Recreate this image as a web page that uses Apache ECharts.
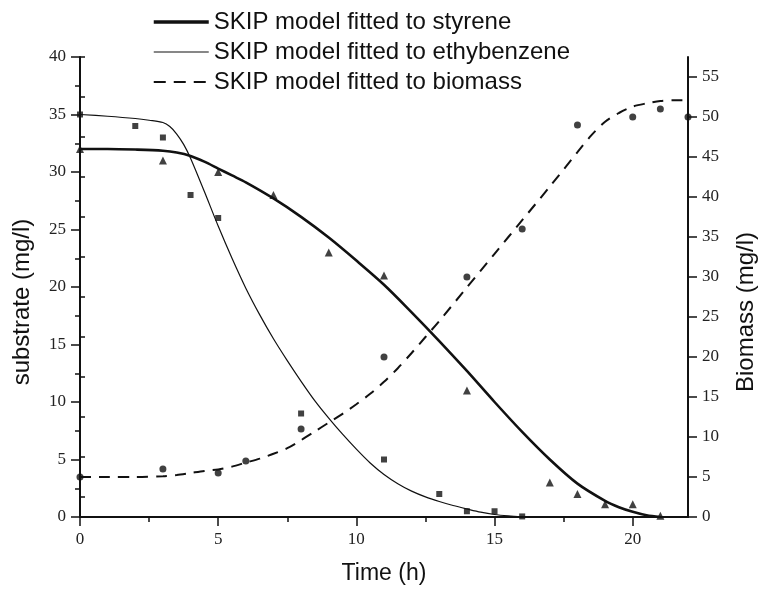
<!DOCTYPE html>
<html>
<head>
<meta charset="utf-8">
<script src="https://cdn.jsdelivr.net/npm/echarts@6/dist/echarts.min.js"></script>
<style>
  html, body { margin: 0; padding: 0; background: #fff; }
  #chart { width: 766px; height: 590px; }
</style>
</head>
<body>
<div id="chart"></div>
<script>
// fitted SKIP curves
const styreneFitTime = [0, 1, 2, 3, 3.5, 4, 4.5, 5, 5.5, 6, 7, 8, 9, 10, 11, 12, 13, 14, 15, 16, 17, 18, 19, 19.5, 20, 20.5, 21]
const styreneFit = [32, 32, 31.95, 31.85, 31.7, 31.4, 30.9, 30.3, 29.7, 29.1, 27.7, 26.1, 24.3, 22.3, 20.2, 17.8, 15.3, 12.7, 10.0, 7.4, 5.0, 2.9, 1.4, 0.85, 0.45, 0.15, 0]

const ethylFitTime = [0, 1, 2, 2.5, 3, 3.25, 3.5, 3.75, 4, 4.5, 5, 5.5, 6, 6.5, 7, 7.5, 8, 8.5, 9, 9.5, 10, 10.5, 11, 11.5, 12, 12.5, 13, 13.5, 14, 14.5, 15, 15.5, 16]
const ethylFit = [35, 34.85, 34.65, 34.5, 34.3, 33.95, 33.3, 32.4, 31.2, 28.3, 25.3, 22.5, 19.9, 17.6, 15.5, 13.6, 11.8, 10.1, 8.6, 7.2, 5.9, 4.7, 3.7, 2.9, 2.25, 1.75, 1.35, 1.0, 0.7, 0.42, 0.22, 0.1, 0.02]

const biomassFitTime = [0, 1, 2, 3, 3.5, 4, 4.5, 5, 5.5, 6, 6.5, 7, 7.5, 8, 8.5, 9, 9.5, 10, 10.5, 11, 11.5, 12, 12.5, 13, 14, 15, 16, 17, 18, 18.5, 19, 19.5, 20, 20.5, 21, 21.5, 22]
const biomassFit = [5, 5, 5, 5.1, 5.25, 5.5, 5.75, 5.95, 6.3, 6.8, 7.3, 7.9, 8.6, 9.6, 10.7, 11.8, 12.9, 14.1, 15.4, 16.9, 18.6, 20.5, 22.5, 24.5, 28.7, 32.9, 37.1, 41.3, 45.6, 47.7, 49.4, 50.5, 51.3, 51.7, 52.0, 52.1, 52.1]

// measured points
const styreneTime = [0, 3, 5, 7, 9, 11, 14, 17, 18, 19, 20, 21]
const styreneObs = [32, 31, 30, 28, 23, 21, 11, 3, 2, 1.1, 1.1, 0.1]

const ethylTime = [0, 2, 3, 4, 5, 8, 11, 13, 14, 15, 16]
const ethylObs = [35, 34, 33, 28, 26, 9, 5, 2, 0.5, 0.5, 0.05]

const biomassTime = [0, 3, 5, 6, 8, 11, 14, 16, 18, 20, 21, 22]
const biomassObs = [5, 6, 5.5, 7, 11, 20, 30, 36, 49, 50, 51, 50]

// ticks
const xMajor = [0, 5, 10, 15, 20]
const xMinor = [2.5, 7.5, 12.5, 17.5]
const leftMajor = [0, 5, 10, 15, 20, 25, 30, 35, 40]
const leftMinor = [2.5, 7.5, 12.5, 17.5, 22.5, 27.5, 32.5, 37.5]
const rightMajor = [0, 5, 10, 15, 20, 25, 30, 35, 40, 45, 50, 55]
const rightMinor = [2.5, 7.5, 12.5, 17.5, 22.5, 27.5, 32.5, 37.5, 42.5, 47.5, 52.5, 57.5]

const ink = '#111'
const serif = '"Liberation Serif", "DejaVu Serif", serif'
const sans = '"Liberation Sans", Arial, sans-serif'

const zip = (xs, ys) => xs.map((x, i) => [x, ys[i]])

function majorAxis(min, max, ticks, extra) {
  return Object.assign({
    type: 'value',
    min: min,
    max: max,
    axisLine: { show: true, onZero: false, lineStyle: { color: ink, width: 2 } },
    axisTick: { show: true, length: 9, customValues: ticks, lineStyle: { color: ink, width: 1.5 } },
    axisLabel: { customValues: ticks, color: '#222', fontFamily: serif, fontSize: 17, margin: 14 },
    splitLine: { show: false }
  }, extra)
}

function minorAxis(min, max, ticks, position) {
  return {
    type: 'value',
    min: min,
    max: max,
    position: position,
    axisLine: { show: false },
    axisTick: { show: true, length: 5, customValues: ticks, lineStyle: { color: ink, width: 1.5 } },
    axisLabel: { show: false },
    splitLine: { show: false }
  }
}

const chart = echarts.init(document.getElementById('chart'))

chart.setOption({
  backgroundColor: '#fff',
  animation: false,
  grid: { left: 80, right: 67, top: 57, bottom: 72 },
  legend: {
    orient: 'vertical',
    left: 147,
    top: 5,
    itemWidth: 55,
    itemHeight: 14,
    itemGap: 6,
    // line only, no marker in the key
    itemStyle: { color: 'transparent', borderColor: 'transparent', borderWidth: 0 },
    data: [
      { name: 'SKIP model fitted to styrene', lineStyle: { width: 3.5, color: ink } },
      { name: 'SKIP model fitted to ethybenzene', lineStyle: { width: 1.2, color: ink } },
      { name: 'SKIP model fitted to biomass', lineStyle: { width: 2, color: ink, type: [12, 8] } }
    ],
    textStyle: { color: ink, fontFamily: sans, fontSize: 24 }
  },
  xAxis: [
    majorAxis(0, 22, xMajor, {
      position: 'bottom',
      name: 'Time (h)',
      nameLocation: 'middle',
      nameGap: 45,
      nameTextStyle: { color: ink, fontFamily: sans, fontSize: 23 }
    }),
    minorAxis(0, 22, xMinor, 'bottom')
  ],
  yAxis: [
    majorAxis(0, 40, leftMajor, {
      position: 'left',
      name: 'substrate (mg/l)',
      nameLocation: 'middle',
      nameRotate: 90,
      nameGap: 46,
      nameTextStyle: { color: ink, fontFamily: sans, fontSize: 24, padding: [0, 30, 0, 0] }
    }),
    majorAxis(0, 57.5, rightMajor, {
      position: 'right',
      name: 'Biomass (mg/l)',
      nameLocation: 'middle',
      nameRotate: 90,
      nameGap: 46,
      nameTextStyle: { color: ink, fontFamily: sans, fontSize: 24, padding: [0, 50, 0, 0] }
    }),
    minorAxis(0, 40, leftMinor, 'left'),
    minorAxis(0, 57.5, rightMinor, 'right')
  ],
  series: [
    {
      name: 'SKIP model fitted to styrene',
      type: 'line',
      data: zip(styreneFitTime, styreneFit),
      yAxisIndex: 0,
      smooth: 0.3,
      symbol: 'none',
      lineStyle: { color: ink, width: 2.6 },
      itemStyle: { color: ink }
    },
    {
      name: 'SKIP model fitted to ethybenzene',
      type: 'line',
      data: zip(ethylFitTime, ethylFit),
      yAxisIndex: 0,
      smooth: 0.3,
      symbol: 'none',
      lineStyle: { color: ink, width: 1.2 },
      itemStyle: { color: ink }
    },
    {
      name: 'SKIP model fitted to biomass',
      type: 'line',
      data: zip(biomassFitTime, biomassFit),
      yAxisIndex: 1,
      smooth: 0.3,
      symbol: 'none',
      lineStyle: { color: ink, width: 2, type: [11, 8] },
      itemStyle: { color: ink }
    },
    {
      name: 'styrene',
      type: 'scatter',
      data: zip(styreneTime, styreneObs),
      yAxisIndex: 0,
      symbol: 'triangle',
      symbolSize: 8,
      itemStyle: { color: ink }
    },
    {
      name: 'ethylbenzene',
      type: 'scatter',
      data: zip(ethylTime, ethylObs),
      yAxisIndex: 0,
      symbol: 'rect',
      symbolSize: 6,
      itemStyle: { color: ink }
    },
    {
      name: 'biomass',
      type: 'scatter',
      data: zip(biomassTime, biomassObs),
      yAxisIndex: 1,
      symbol: 'circle',
      symbolSize: 7,
      itemStyle: { color: ink }
    }
  ]
})
</script>
</body>
</html>
